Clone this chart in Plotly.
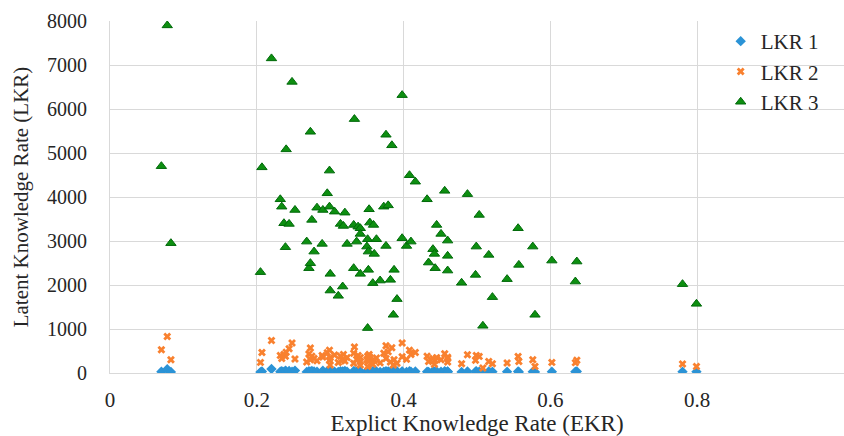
import plotly.graph_objects as go

# Explicit knowledge rate per observation (shared by all three series)
ekr = [0.070, 0.078, 0.083, 0.205, 0.207, 0.220, 0.232, 0.234, 0.237, 0.239,
       0.240, 0.244, 0.248, 0.252, 0.268, 0.271, 0.273, 0.273, 0.275, 0.278,
       0.282, 0.289, 0.290, 0.296, 0.299, 0.299, 0.300, 0.300, 0.306, 0.311,
       0.314, 0.317, 0.318, 0.320, 0.323, 0.332, 0.332, 0.333, 0.336, 0.338,
       0.341, 0.341, 0.341, 0.350, 0.351, 0.351, 0.352, 0.352, 0.353, 0.354,
       0.358, 0.359, 0.360, 0.363, 0.368, 0.373, 0.376, 0.376, 0.379, 0.382,
       0.384, 0.386, 0.387, 0.391, 0.398, 0.398, 0.404, 0.408, 0.410, 0.416,
       0.432, 0.434, 0.440, 0.442, 0.443, 0.445, 0.451, 0.456, 0.460, 0.460,
       0.460, 0.479, 0.487, 0.498, 0.499, 0.503, 0.508, 0.516, 0.521, 0.541,
       0.556, 0.557, 0.576, 0.579, 0.602, 0.636, 0.634, 0.780, 0.799]

lkr1 = [30, 85, 25, 20, 35, 90, 30, 40, 25, 50,
        35, 45, 30, 55, 25, 40, 30, 20, 45, 35,
        30, 25, 50, 40, 30, 35, 20, 45, 30, 25,
        40, 35, 20, 45, 30, 25, 40, 35, 30, 50,
        20, 35, 25, 40, 30, 20, 45, 35, 30, 25,
        40, 30, 50, 35, 25, 30, 40, 20, 35, 30,
        45, 25, 30, 40, 35, 30, 25, 40, 30, 35,
        30, 25, 40, 30, 20, 35, 30, 40, 25, 35,
        30, 25, 35, 30, 40, 30, 25, 35, 30, 30,
        35, 25, 30, 25, 30, 35, 30, 30, 30]

lkr2 = [529, 831, 302, 241, 467, 740, 400, 330, 420, 380,
        470, 550, 680, 320, 250, 430, 567, 300, 380, 330,
        280, 400, 360, 460, 520, 290, 180, 350, 410, 240,
        380, 300, 420, 270, 350, 450, 220, 590, 310, 400,
        260, 350, 180, 300, 380, 150, 330, 260, 420, 360,
        200, 310, 280, 340, 230, 450, 620, 330, 480, 250,
        574, 180, 300, 220, 680, 370, 310, 520, 420, 467,
        380, 260, 330, 200, 290, 350, 300, 438, 360, 250,
        330, 211, 415, 290, 397, 377, 113, 263, 211, 227,
        377, 263, 302, 150, 241, 290, 235, 204, 150]

lkr3 = [4700, 7900, 2950, 2292, 4674, 7150, 3948, 3780, 3404, 2859,
        5083, 3388, 6616, 3705, 2986, 2382, 5482, 2496, 3480, 2759,
        3757, 2934, 3705, 4084, 4600, 3780, 2253, 1874, 3667, 1754,
        3388, 1965, 3342, 3644, 2934, 3365, 2382, 5770, 2986, 3326,
        3290, 3161, 2253, 2873, 3040, 1021, 2759, 2344, 3721, 3418,
        2042, 3365, 2707, 3040, 2101, 3780, 5415, 2888, 3810, 2117,
        5175, 1323, 2344, 1679, 6315, 3063, 2888, 4495, 2986, 4348,
        3948, 2510, 2814, 2707, 2382, 3365, 3161, 4140, 3009, 2662,
        2328, 2050, 4065, 2230, 2873, 3592, 1073, 2684, 1724, 2133,
        3290, 2457, 2873, 1323, 2555, 2533, 2078, 2019, 1572]

x_ticks = [0, 0.2, 0.4, 0.6, 0.8, 1]
y_ticks = [0, 1000, 2000, 3000, 4000, 5000, 6000, 7000, 8000]

FONT = "Liberation Serif"
GRID = "#d9d9d9"
TEXT = "#262626"

fig = go.Figure()
fig.add_trace(go.Scatter(
    x=ekr, y=lkr1, mode="markers", name="LKR 1",
    marker=dict(symbol="diamond", size=8, color="#2b93d6", line=dict(width=0)),
))
fig.add_trace(go.Scatter(
    x=ekr, y=lkr2, mode="markers", name="LKR 2",
    marker=dict(symbol="x", size=7, color="#f9812f", line=dict(width=0)),
))
fig.add_trace(go.Scatter(
    x=ekr, y=lkr3, mode="markers", name="LKR 3",
    marker=dict(symbol="triangle-up", size=9, color="#0d8f10",
                line=dict(width=1, color="#00690a")),
))

fig.update_layout(
    width=844, height=436,
    margin=dict(l=110, r=0, t=21, b=63),
    paper_bgcolor="white", plot_bgcolor="white",
    font=dict(family=FONT, size=20, color=TEXT),
    showlegend=True,
    legend=dict(
        x=0.832, y=1.0, xanchor="left", yanchor="top",
        bgcolor="rgba(0,0,0,0)", borderwidth=0,
        font=dict(family=FONT, size=21, color=TEXT),
        itemwidth=30,
    ),
)
fig.update_xaxes(
    range=[0, 1], tickvals=x_ticks, ticktext=[f"{v:g}" for v in x_ticks],
    showgrid=True, gridcolor=GRID, gridwidth=1,
    zeroline=False, showline=True, linecolor=GRID, linewidth=1,
    ticks="", ticklabelstandoff=8,
    tickfont=dict(family=FONT, size=21, color=TEXT),
    title=dict(text="Explict Knowledge Rate (EKR)", standoff=7,
               font=dict(family=FONT, size=23, color=TEXT)),
)
fig.update_yaxes(
    range=[0, 8000], tickvals=y_ticks,
    showgrid=True, gridcolor=GRID, gridwidth=1,
    zeroline=False, showline=True, linecolor=GRID, linewidth=1,
    ticks="", ticklabelstandoff=18,
    tickfont=dict(family=FONT, size=20, color=TEXT),
    title=dict(text="Latent Knowledge Rate (LKR)", standoff=12,
               font=dict(family=FONT, size=21, color=TEXT)),
)

fig.write_html("out.html")
